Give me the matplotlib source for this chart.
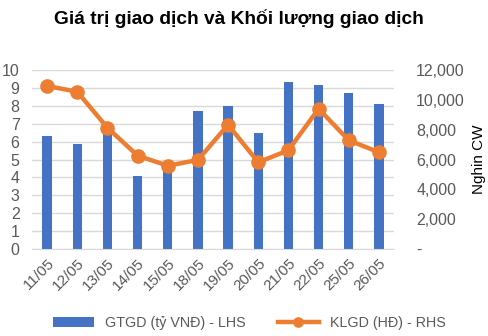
import matplotlib.pyplot as plt
from matplotlib.ticker import FuncFormatter

plt.rcParams['font.family'] = ['Liberation Sans', 'DejaVu Sans']

ngay = ["11/05", "12/05", "13/05", "14/05", "15/05", "18/05",
        "19/05", "20/05", "21/05", "22/05", "25/05", "26/05"]
gtgd = [6.33, 5.85, 6.7, 4.08, 4.7, 7.71, 7.99, 6.48, 9.35, 9.16, 8.72, 8.10]
klgd = [10930, 10540, 8130, 6260, 5580, 5970, 8330, 5810, 6620, 9400, 7290, 6480]

mau_cot = "#4472C4"
mau_duong = "#ED7D31"
mau_chu = "#595959"

fig = plt.figure(figsize=(4.89, 3.36), dpi=100)
ax = fig.add_axes([32 / 489, 1 - 249 / 336, (394 - 32) / 489, (249 - 70) / 336])
ax2 = ax.twinx()

x = range(len(ngay))
ax.bar(x, gtgd, width=0.31, color=mau_cot, zorder=2, label="GTGD (tỷ VNĐ) - LHS")
ax2.plot(x, klgd, color=mau_duong, lw=3.2, marker="o", ms=9.5, zorder=3,
         label="KLGD (HĐ) - RHS")

ax.set_xlim(-0.5, len(ngay) - 0.5)
ax.set_ylim(0, 10)
ax2.set_ylim(0, 12000)
ax.set_yticks(range(0, 11))
ax2.set_yticks(range(0, 12001, 2000))
ax2.yaxis.set_major_formatter(FuncFormatter(lambda v, p: "-" if v == 0 else f"{int(v):,}"))

ax.grid(axis="y", color="#D9D9D9", lw=1, zorder=0)
ax.set_axisbelow(True)
for a in (ax, ax2):
    for s in a.spines.values():
        s.set_visible(False)
    a.tick_params(length=0, colors=mau_chu, labelsize=11.5)
ax.spines["bottom"].set_visible(True)
ax.spines["bottom"].set_color("#D9D9D9")

ax.set_xticks(list(x))
ax.set_xticklabels(ngay, rotation=45, ha="right", rotation_mode="anchor")
ax.tick_params(axis="x", pad=5, labelsize=11)
ax.tick_params(axis="y", pad=9)
ax2.tick_params(axis="y", pad=16)

ax2.set_ylabel("Nghin CW", color="black", fontsize=11, labelpad=5)

fig.text(0.488, 0.945, "Giá trị giao dịch và Khối lượng giao dịch",
         ha="center", va="center", fontsize=13.8, fontweight="bold")

h1, l1 = ax.get_legend_handles_labels()
h2, l2 = ax2.get_legend_handles_labels()
fig.legend(h1 + h2, l1 + l2, loc="center", bbox_to_anchor=(0.51, 0.04), ncol=2,
           frameon=False, fontsize=10.3, labelcolor=mau_chu, handlelength=2.9,
           columnspacing=2.2, markerscale=0.7)

fig.savefig("out.png", dpi=100)
